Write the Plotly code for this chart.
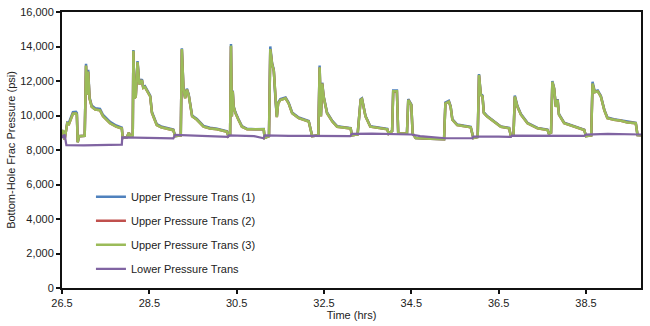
import plotly.graph_objects as go

# ---- data ----
t_upper = [
    26.50, 26.52, 26.56, 26.59, 26.62, 26.66, 26.71, 26.75, 26.82, 26.84,
    26.86, 26.89, 27.02, 27.05, 27.07, 27.10, 27.13, 27.18, 27.26, 27.37,
    27.44, 27.51, 27.60, 27.74, 27.87, 27.89, 27.99, 28.03, 28.06, 28.12,
    28.135, 28.16, 28.19, 28.23, 28.27, 28.33, 28.36, 28.40, 28.47, 28.52,
    28.56, 28.61, 28.67, 28.77, 28.90, 29.05, 29.09, 29.22, 29.245, 29.28,
    29.32, 29.36, 29.40, 29.44, 29.48, 29.59, 29.74, 29.89, 30.05, 30.28,
    30.31, 30.35, 30.37, 30.39, 30.41, 30.43, 30.47, 30.54, 30.62, 30.74,
    30.93, 31.12, 31.14, 31.24, 31.27, 31.31, 31.35, 31.39, 31.42, 31.45,
    31.50, 31.62, 31.69, 31.77, 31.92, 32.15, 32.19, 32.23, 32.37, 32.40,
    32.43, 32.46, 32.49, 32.57, 32.69, 32.80, 33.11, 33.14, 33.27, 33.34,
    33.37, 33.41, 33.45, 33.56, 33.95, 33.98, 34.06, 34.085, 34.17, 34.20,
    34.40, 34.43, 34.47, 34.50, 34.53, 34.60, 34.94, 35.25, 35.28, 35.36,
    35.40, 35.44, 35.55, 35.86, 35.92, 36.02, 36.05, 36.09, 36.13, 36.16,
    36.23, 36.39, 36.55, 36.74, 36.78, 36.84, 36.87, 36.93, 37.01, 37.16,
    37.39, 37.62, 37.65, 37.70, 37.73, 37.77, 37.81, 37.85, 37.88, 38.00,
    38.23, 38.46, 38.50, 38.62, 38.65, 38.70, 38.77, 38.84, 38.92, 38.99,
    39.14, 39.30, 39.45, 39.64, 39.68, 39.76,
]

p_upper3 = [
    9000, 9150, 8600, 9100, 9550, 9500, 9850, 10100, 10120, 10050,
    8450, 8800, 8820, 12900, 11200, 12550, 11000, 10500, 10350, 10300,
    9950, 9800, 9550, 9350, 9250, 8700, 8750, 9000, 8800, 8850,
    13750, 11000, 11100, 13100, 11800, 12050, 11600, 11650, 11300, 11100,
    10150, 9800, 9450, 9320, 9250, 9150, 8800, 8850, 13850, 11600,
    11000, 11500, 11200, 10500, 9950, 9750, 9350, 9250, 9200, 9050,
    8800, 8900, 14050, 9950, 11400, 10500, 10150, 9750, 9350, 9200,
    9180, 9200, 8700, 8800, 13850, 13000, 12600, 10800, 9900, 10700,
    10900, 11000, 10700, 10130, 9850, 9650, 9150, 8800, 8850, 12800,
    9950, 11850, 11100, 10130, 9650, 9350, 9250, 8850, 8900, 10900,
    10950, 10500, 9950, 9350, 9200, 8950, 9100, 11400, 11400, 8950,
    8950, 10900, 10700, 10600, 8950, 8700, 8650, 8620, 10700, 10800,
    10500, 9750, 9450, 9320, 8700, 8750, 12350, 11200, 11100, 10150,
    9950, 9650, 9350, 9260, 8800, 8850, 11100, 10500, 10050, 9550,
    9260, 9160, 8950, 9000, 11950, 11550, 10500, 10900, 10050, 9550,
    9350, 9160, 8800, 8850, 11850, 11350, 11400, 11100, 10300, 9850,
    9750, 9700, 9600, 9550, 8870, 8850,
]

p_upper1 = [
    9000, 9150, 8600, 9150, 9600, 9600, 9950, 10200, 10220, 10150,
    8450, 8800, 8820, 13000, 11300, 12650, 11050, 10580, 10420, 10380,
    10030, 9880, 9630, 9420, 9300, 8700, 8750, 9000, 8800, 8850,
    13800, 11050, 11150, 13150, 11850, 12100, 11650, 11700, 11350, 11150,
    10200, 9850, 9500, 9370, 9290, 9180, 8800, 8850, 13900, 11650,
    11050, 11550, 11250, 10550, 10000, 9800, 9400, 9290, 9230, 9080,
    8800, 8900, 14150, 10000, 11450, 10550, 10200, 9800, 9390, 9230,
    9200, 9220, 8700, 8800, 14000, 13050, 12650, 10850, 9950, 10750,
    10950, 11050, 10750, 10180, 9890, 9680, 9150, 8800, 8850, 12900,
    10000, 11900, 11150, 10180, 9690, 9380, 9270, 8850, 8900, 10950,
    11000, 10550, 9990, 9380, 9220, 8950, 9100, 11450, 11450, 8950,
    8950, 10950, 10750, 10650, 8950, 8700, 8650, 8620, 10750, 10850,
    10550, 9790, 9480, 9340, 8700, 8750, 12400, 11250, 11150, 10190,
    9990, 9680, 9370, 9280, 8800, 8850, 11150, 10550, 10090, 9580,
    9280, 9180, 8950, 9000, 12000, 11600, 10550, 10950, 10090, 9580,
    9370, 9180, 8800, 8850, 11950, 11400, 11450, 11150, 10340, 9880,
    9780, 9720, 9620, 9570, 8870, 8850,
]

p_upper2 = [
    9000, 9150, 8600, 9100, 9550, 9500, 9850, 10100, 10120, 10050,
    8450, 8800, 8820, 12880, 11200, 12530, 11000, 10500, 10350, 10300,
    9950, 9800, 9550, 9350, 9250, 8700, 8750, 9000, 8800, 8850,
    13730, 11000, 11100, 13080, 11800, 12050, 11600, 11650, 11300, 11100,
    10150, 9800, 9450, 9320, 9250, 9150, 8800, 8850, 13830, 11600,
    11000, 11500, 11200, 10500, 9950, 9750, 9350, 9250, 9200, 9050,
    8800, 8900, 14020, 9950, 11400, 10500, 10150, 9750, 9350, 9200,
    9180, 9200, 8700, 8800, 13830, 13000, 12600, 10800, 9900, 10700,
    10900, 11000, 10700, 10130, 9850, 9650, 9150, 8800, 8850, 12780,
    9950, 11850, 11100, 10130, 9650, 9350, 9250, 8850, 8900, 10900,
    10950, 10500, 9950, 9350, 9200, 8950, 9100, 11380, 11380, 8950,
    8950, 10900, 10700, 10600, 8950, 8700, 8650, 8620, 10700, 10800,
    10500, 9750, 9450, 9320, 8700, 8750, 12330, 11200, 11100, 10150,
    9950, 9650, 9350, 9260, 8800, 8850, 11080, 10500, 10050, 9550,
    9260, 9160, 8950, 9000, 11930, 11550, 10500, 10900, 10050, 9550,
    9350, 9160, 8800, 8850, 11830, 11350, 11400, 11100, 10300, 9850,
    9750, 9700, 9600, 9550, 8870, 8850,
]

t_lower = [
    26.50, 26.53, 26.56, 26.58, 26.60, 27.00, 27.50, 27.87, 27.88, 28.50,
    29.05, 29.09, 29.50, 30.30, 30.32, 30.90, 31.12, 31.14, 31.70, 32.19,
    32.21, 33.10, 33.14, 33.60, 34.00, 34.50, 34.70, 35.28, 35.90, 35.92,
    36.50, 36.78, 36.80, 37.60, 38.46, 38.50, 39.00, 39.76,
]
p_lower = [
    8850, 8700, 8900, 8550, 8280, 8270, 8290, 8310, 8730, 8700,
    8680, 8870, 8830, 8760, 8850, 8800, 8680, 8850, 8820, 8780,
    8820, 8800, 8930, 8950, 8930, 8900, 8800, 8680, 8680, 8770,
    8780, 8760, 8830, 8830, 8820, 8890, 8930, 8900,
]

x_tickvals = [26.5, 28.5, 30.5, 32.5, 34.5, 36.5, 38.5]
x_ticktext = ["26.5", "28.5", "30.5", "32.5", "34.5", "36.5", "38.5"]
y_tickvals = [0, 2000, 4000, 6000, 8000, 10000, 12000, 14000, 16000]
y_ticktext = ["0", "2,000", "4,000", "6,000", "8,000", "10,000", "12,000", "14,000", "16,000"]

names = ["Upper Pressure Trans (1)", "Upper Pressure Trans (2)",
         "Upper Pressure Trans (3)", "Lower Pressure Trans"]
colors = ["#4f81bd", "#c0504d", "#9bbb59", "#8064a2"]

FONT = "Liberation Sans, Arial, Helvetica, sans-serif"

fig = go.Figure()
series = [(t_upper, p_upper1), (t_upper, p_upper2), (t_upper, p_upper3), (t_lower, p_lower)]
for i, ((tx, py), nm, col) in enumerate(zip(series, names, colors)):
    fig.add_trace(go.Scatter(
        x=tx, y=py, mode="lines", name=nm,
        line=dict(color=col, width=2.5 if i < 3 else 2.2),
        legendgroup=f"g{i}",
    ))

axis_common = dict(
    showgrid=False, zeroline=False, showline=True, linecolor="#111111",
    linewidth=2, mirror=True, ticks="outside", ticklen=4, tickwidth=1.5,
    tickcolor="#111111", tickfont=dict(family=FONT, size=11, color="#222222"),
    automargin=False,
)

fig.update_layout(
    width=650, height=326,
    margin=dict(l=62, r=9, t=12, b=38),
    paper_bgcolor="white", plot_bgcolor="white",
    font=dict(family=FONT, size=11, color="#222222"),
    showlegend=True,
    legend=dict(
        x=0.05, y=0.383, xanchor="left", yanchor="top",
        bgcolor="rgba(0,0,0,0)", font=dict(family=FONT, size=11, color="#222222"),
        tracegroupgap=5, itemwidth=30,
    ),
    xaxis=dict(
        range=[26.5, 39.76], tickvals=x_tickvals, ticktext=x_ticktext,
        title=dict(text="Time (hrs)", font=dict(family=FONT, size=11), standoff=2),
        **axis_common,
    ),
    yaxis=dict(
        range=[0, 16000], tickvals=y_tickvals, ticktext=y_ticktext,
        title=dict(text="Bottom-Hole Frac Pressure (psi)", font=dict(family=FONT, size=11), standoff=2),
        **axis_common,
    ),
)

fig.write_html("out.html")
